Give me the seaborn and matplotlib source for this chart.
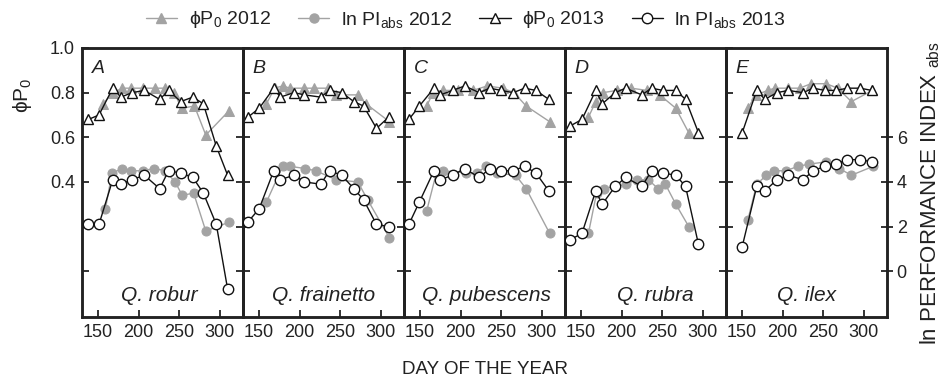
import numpy as np
import pandas as pd
import matplotlib
matplotlib.use("Agg")
import matplotlib.pyplot as plt
from matplotlib.lines import Line2D
import seaborn as sns

# ---------------- data ----------------
panels = ["A", "B", "C", "D", "E"]
species = ["Q. robur", "Q. frainetto", "Q. pubescens", "Q. rubra", "Q. ilex"]

A_day13 = [138, 151, 168, 178, 192, 207, 226, 237, 252, 267, 280, 296, 310]
A_phi13 = [0.68, 0.70, 0.82, 0.78, 0.80, 0.81, 0.77, 0.81, 0.76, 0.78, 0.75, 0.56, 0.43]
A_pi13 = [2.1, 2.1, 4.1, 3.9, 4.1, 4.3, 3.7, 4.5, 4.4, 4.2, 3.5, 2.1, -0.8]
A_dphi12 = [156, 168, 180, 190, 205, 220, 233, 244, 253, 269, 283, 312]
A_phi12 = [0.75, 0.80, 0.82, 0.82, 0.82, 0.82, 0.82, 0.80, 0.73, 0.74, 0.61, 0.72]
A_dpi12 = [159, 167, 180, 191, 205, 219, 233, 245, 254, 268, 283, 312]
A_pi12 = [2.8, 4.4, 4.6, 4.5, 4.5, 4.6, 4.5, 4.0, 3.4, 3.5, 1.8, 2.2]

B_day13 = [136, 150, 168, 176, 193, 206, 226, 237, 252, 267, 279, 295, 310]
B_phi13 = [0.69, 0.73, 0.82, 0.78, 0.80, 0.79, 0.78, 0.81, 0.80, 0.76, 0.74, 0.64, 0.69]
B_pi13 = [2.2, 2.8, 4.5, 4.1, 4.3, 4.0, 3.9, 4.5, 4.3, 3.7, 3.2, 2.1, 2.0]
B_dphi12 = [159, 169, 179, 188, 206, 218, 235, 245, 272, 282, 311]
B_phi12 = [0.75, 0.82, 0.83, 0.82, 0.82, 0.82, 0.82, 0.79, 0.79, 0.75, 0.67]
B_dpi12 = [159, 179, 188, 207, 220, 245, 272, 284, 311]
B_pi12 = [3.1, 4.7, 4.7, 4.6, 4.5, 4.1, 4.0, 3.2, 1.5]

C_day13 = [136, 149, 167, 175, 190, 205, 223, 236, 250, 265, 279, 293, 309]
C_phi13 = [0.68, 0.74, 0.82, 0.79, 0.81, 0.83, 0.80, 0.82, 0.81, 0.80, 0.82, 0.81, 0.77]
C_pi13 = [2.1, 3.1, 4.5, 4.1, 4.3, 4.6, 4.2, 4.6, 4.5, 4.5, 4.7, 4.4, 3.6]
C_dphi12 = [158, 166, 178, 197, 215, 233, 252, 266, 281, 310]
C_phi12 = [0.74, 0.80, 0.81, 0.81, 0.81, 0.83, 0.82, 0.80, 0.74, 0.67]
C_dpi12 = [158, 170, 178, 207, 220, 231, 245, 268, 281, 310]
C_pi12 = [2.7, 4.4, 4.5, 4.4, 4.4, 4.7, 4.4, 4.3, 3.7, 1.7]

D_day13 = [136, 151, 168, 176, 192, 205, 225, 237, 251, 267, 279, 295]
D_phi13 = [0.65, 0.68, 0.81, 0.75, 0.80, 0.82, 0.79, 0.82, 0.81, 0.81, 0.77, 0.62]
D_pi13 = [1.4, 1.7, 3.6, 3.0, 3.8, 4.2, 3.8, 4.5, 4.4, 4.3, 3.8, 1.2]
D_dphi12 = [159, 168, 177, 194, 212, 231, 247, 267, 283]
D_phi12 = [0.69, 0.76, 0.80, 0.81, 0.82, 0.81, 0.79, 0.73, 0.62]
D_dpi12 = [159, 169, 178, 205, 219, 233, 245, 254, 267, 283]
D_pi12 = [1.7, 3.5, 3.7, 3.9, 4.1, 4.1, 3.7, 3.9, 3.0, 2.0]

E_day13 = [150, 168, 178, 193, 207, 225, 238, 252, 266, 280, 296, 310]
E_phi13 = [0.62, 0.81, 0.77, 0.80, 0.81, 0.80, 0.82, 0.81, 0.81, 0.82, 0.82, 0.81]
E_pi13 = [1.1, 3.8, 3.6, 4.1, 4.3, 4.1, 4.5, 4.7, 4.8, 5.0, 5.0, 4.9]
E_dphi12 = [157, 167, 182, 190, 207, 221, 235, 254, 268, 285, 311]
E_phi12 = [0.73, 0.79, 0.81, 0.82, 0.82, 0.82, 0.84, 0.84, 0.82, 0.76, 0.81]
E_dpi12 = [157, 168, 180, 189, 204, 219, 233, 254, 270, 285, 312]
E_pi12 = [2.3, 3.9, 4.3, 4.5, 4.5, 4.7, 4.8, 4.9, 4.6, 4.3, 4.7]

x_ticks = [150, 200, 250, 300]
phi_ticklabels = ["", "", "0.4", "0.6", "0.8", "1.0"]
pi_ticklabels = ["0", "2", "4", "6"]

legend_labels = [r"ϕ$\mathregular{P_0}$ 2012", r"ln $\mathregular{PI_{abs}}$ 2012",
                 r"ϕ$\mathregular{P_0}$ 2013", r"ln $\mathregular{PI_{abs}}$ 2013"]

# ---------------- style ----------------
sns.set_theme(style="ticks")
plt.rcParams["font.family"] = ["Liberation Sans", "DejaVu Sans"]
plt.rcParams["mathtext.fontset"] = "custom"
plt.rcParams["mathtext.rm"] = "Liberation Sans"
plt.rcParams["mathtext.it"] = "Liberation Sans:italic"

GRAY = "#a3a3a3"
BLACK = "#111111"
TXT = "#222222"
FS = 13

data = {
    "A": (A_day13, A_phi13, A_pi13, A_dphi12, A_phi12, A_dpi12, A_pi12),
    "B": (B_day13, B_phi13, B_pi13, B_dphi12, B_phi12, B_dpi12, B_pi12),
    "C": (C_day13, C_phi13, C_pi13, C_dphi12, C_phi12, C_dpi12, C_pi12),
    "D": (D_day13, D_phi13, D_pi13, D_dphi12, D_phi12, D_dpi12, D_pi12),
    "E": (E_day13, E_phi13, E_pi13, E_dphi12, E_phi12, E_dpi12, E_pi12),
}

fig = plt.figure(figsize=(9.42, 3.79), dpi=100)
W, H = 942.0, 379.0
left0, pw = 82.0, 161.0
top, bot = 48.0, 317.0
species_x = [0.48, 0.50, 0.51, 0.56, 0.50]

for i, p in enumerate(panels):
    d13, phi13, pi13, dphi12, phi12, dpi12, pi12 = data[p]
    ax = fig.add_axes([(left0 + i * pw) / W, 1 - bot / H, pw / W, (bot - top) / H])
    ax2 = ax.twinx()

    # 2012 (gray, filled)
    sns.lineplot(x=dphi12, y=phi12, ax=ax, color=GRAY, lw=1.0, marker="^",
                 markersize=6.5, markerfacecolor=GRAY, markeredgecolor=GRAY,
                 sort=False, estimator=None, zorder=2)
    sns.lineplot(x=dpi12, y=pi12, ax=ax2, color=GRAY, lw=1.0, marker="o",
                 markersize=6.5, markerfacecolor=GRAY, markeredgecolor=GRAY,
                 sort=False, estimator=None, zorder=2)
    # 2013 (black, open)
    sns.lineplot(x=d13, y=phi13, ax=ax, color=BLACK, lw=1.0, marker="^",
                 markersize=7.5, markerfacecolor="white", markeredgecolor=BLACK,
                 markeredgewidth=1.0, sort=False, estimator=None, zorder=3)
    sns.lineplot(x=d13, y=pi13, ax=ax2, color=BLACK, lw=1.0, marker="o",
                 markersize=7.5, markerfacecolor="white", markeredgecolor=BLACK,
                 markeredgewidth=1.0, sort=False, estimator=None, zorder=3)

    ax.set_xlim(130, 329)
    ax.set_ylim(-0.205, 1.0)
    ax2.set_ylim(-2.05, 10.0)
    ax.set_xlabel("")
    ax.set_ylabel("")
    ax2.set_ylabel("")

    ax.set_xticks(x_ticks)
    ax.set_xticklabels([str(t) for t in x_ticks], fontsize=FS)
    ax.set_yticks([0.0, 0.2, 0.4, 0.6, 0.8, 1.0])
    if i == 0:
        ax.set_yticklabels(phi_ticklabels, fontsize=FS)
    else:
        ax.set_yticklabels([])
    ax.tick_params(axis="x", direction="in", length=5, width=1.2, pad=5, colors=BLACK,
                   labelcolor=TXT)
    ax.tick_params(axis="y", direction="in", length=5, width=1.2, pad=5, colors=BLACK,
                   labelcolor=TXT)

    ax2.set_yticks([0, 2, 4, 6])
    if i == len(panels) - 1:
        ax2.set_yticklabels(pi_ticklabels, fontsize=FS)
        ax2.tick_params(axis="y", direction="inout", length=8, width=1.2, pad=3,
                        colors=BLACK, labelcolor=TXT)
    else:
        ax2.set_yticklabels([])
        ax2.tick_params(axis="y", direction="in", length=5, width=1.2, colors=BLACK)

    for a in (ax, ax2):
        for s in a.spines.values():
            s.set_visible(True)
            s.set_linewidth(1.8)
            s.set_color("#222222")
        a.grid(False)
    ax.set_facecolor("none")

    ax.text(0.06, 0.925, p, transform=ax.transAxes, fontsize=14, style="italic",
            ha="left", va="center", color=TXT)
    ax.text(species_x[i], 0.08, species[i], transform=ax.transAxes, fontsize=15,
            style="italic", ha="center", va="center", color=TXT)

# axis labels
fig.text(22 / W, 1 - 95 / H, r"ϕ$\mathregular{P_0}$", rotation=90, ha="center",
         va="center", fontsize=15, color=TXT)
fig.text(930 / W, 1 - 193 / H, r"ln PERFORMANCE INDEX $\mathregular{_{abs}}$",
         rotation=90, ha="center", va="center", fontsize=16, color=TXT)
fig.text(485 / W, 1 - 370 / H, "DAY OF THE YEAR", ha="center", va="center",
         fontsize=13.5, color=TXT)

# legend
handles = [
    Line2D([], [], color=GRAY, lw=1.0, marker="^", markersize=6.5,
           markerfacecolor=GRAY, markeredgecolor=GRAY),
    Line2D([], [], color=GRAY, lw=1.0, marker="o", markersize=6.5,
           markerfacecolor=GRAY, markeredgecolor=GRAY),
    Line2D([], [], color=BLACK, lw=1.0, marker="^", markersize=7.5,
           markerfacecolor="white", markeredgecolor=BLACK),
    Line2D([], [], color=BLACK, lw=1.0, marker="o", markersize=7.5,
           markerfacecolor="white", markeredgecolor=BLACK),
]
leg = fig.legend(handles, legend_labels, loc="center", bbox_to_anchor=(466 / W, 1 - 20 / H),
                 ncol=4, frameon=False, fontsize=14, handlelength=1.6,
                 columnspacing=1.4, handletextpad=0.6)
for t in leg.get_texts():
    t.set_color(TXT)

fig.savefig("out.png", dpi=100)
